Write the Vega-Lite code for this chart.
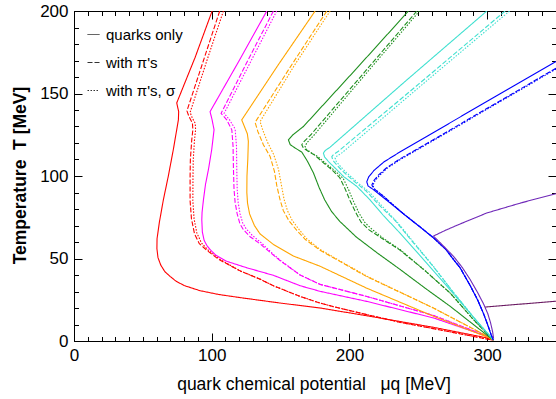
{
"$schema": "https://vega.github.io/schema/vega-lite/v6.json",
"width": 482, "height": 330,
"autosize": {"type": "none"},
"padding": {"left": 74, "top": 11, "right": 0, "bottom": 58},
"background": "white",
"config": {
  "view": {"stroke": "black", "strokeWidth": 1},
  "font": "Liberation Sans",
  "axis": {"grid": false, "domain": false, "tickColor": "black", "labelColor": "black", "titleColor": "black", "labelFont": "Liberation Sans", "titleFont": "Liberation Sans", "tickWidth": 1}
},
"resolve": {"axis": {"x": "independent", "y": "independent"}},
"layer": [
{
  "data": {"values": [
{"c":"A","v":"quarks only","i":0,"mu":100.3,"T":200},{"c":"A","v":"quarks only","i":1,"mu":88,"T":172},{"c":"A","v":"quarks only","i":2,"mu":74.6,"T":144.3},{"c":"A","v":"quarks only","i":3,"mu":76,"T":139},{"c":"A","v":"quarks only","i":4,"mu":75.8,"T":134},{"c":"A","v":"quarks only","i":5,"mu":72.1,"T":115.9},{"c":"A","v":"quarks only","i":6,"mu":68.5,"T":100},{"c":"A","v":"quarks only","i":7,"mu":64.9,"T":85.6},{"c":"A","v":"quarks only","i":8,"mu":62,"T":72},{"c":"A","v":"quarks only","i":9,"mu":60.3,"T":62},{"c":"A","v":"quarks only","i":10,"mu":60.2,"T":56},{"c":"A","v":"quarks only","i":11,"mu":61,"T":50.5},{"c":"A","v":"quarks only","i":12,"mu":63,"T":46},{"c":"A","v":"quarks only","i":13,"mu":66,"T":42},{"c":"A","v":"quarks only","i":14,"mu":69.7,"T":39.2},{"c":"A","v":"quarks only","i":15,"mu":74,"T":36.3},{"c":"A","v":"quarks only","i":16,"mu":80,"T":33.6},{"c":"A","v":"quarks only","i":17,"mu":91.5,"T":30.5},{"c":"A","v":"quarks only","i":18,"mu":105,"T":28.2},{"c":"A","v":"quarks only","i":19,"mu":120.6,"T":26.3},{"c":"A","v":"quarks only","i":20,"mu":149.7,"T":23},{"c":"A","v":"quarks only","i":21,"mu":178.7,"T":20},{"c":"A","v":"quarks only","i":22,"mu":212.6,"T":15.3},{"c":"A","v":"quarks only","i":23,"mu":261,"T":8.3},{"c":"A","v":"quarks only","i":24,"mu":299.8,"T":1.9},{"c":"A","v":"quarks only","i":25,"mu":304.6,"T":0.5},
{"c":"A","v":"with π's","i":0,"mu":105.8,"T":200},{"c":"A","v":"with π's","i":1,"mu":94,"T":170},{"c":"A","v":"with π's","i":2,"mu":82,"T":139.5},{"c":"A","v":"with π's","i":3,"mu":83.5,"T":136},{"c":"A","v":"with π's","i":4,"mu":86,"T":132},{"c":"A","v":"with π's","i":5,"mu":86.3,"T":128},{"c":"A","v":"with π's","i":6,"mu":85.5,"T":121.9},{"c":"A","v":"with π's","i":7,"mu":84.5,"T":110},{"c":"A","v":"with π's","i":8,"mu":84.3,"T":100},{"c":"A","v":"with π's","i":9,"mu":84.3,"T":85},{"c":"A","v":"with π's","i":10,"mu":85.3,"T":74},{"c":"A","v":"with π's","i":11,"mu":87.5,"T":65},{"c":"A","v":"with π's","i":12,"mu":91,"T":59},{"c":"A","v":"with π's","i":13,"mu":96.4,"T":55},{"c":"A","v":"with π's","i":14,"mu":105,"T":49.5},{"c":"A","v":"with π's","i":15,"mu":120.6,"T":42.5},{"c":"A","v":"with π's","i":16,"mu":135,"T":37.5},{"c":"A","v":"with π's","i":17,"mu":144.8,"T":33.5},{"c":"A","v":"with π's","i":18,"mu":164.2,"T":27},{"c":"A","v":"with π's","i":19,"mu":178.7,"T":23},{"c":"A","v":"with π's","i":20,"mu":188.4,"T":20.8},{"c":"A","v":"with π's","i":21,"mu":212.6,"T":16},{"c":"A","v":"with π's","i":22,"mu":236.9,"T":11.3},{"c":"A","v":"with π's","i":23,"mu":261,"T":7.5},{"c":"A","v":"with π's","i":24,"mu":299.8,"T":1.2},{"c":"A","v":"with π's","i":25,"mu":304.6,"T":0.5},
{"c":"A","v":"with π's, σ","i":0,"mu":108.5,"T":200},{"c":"A","v":"with π's, σ","i":1,"mu":96.5,"T":170},{"c":"A","v":"with π's, σ","i":2,"mu":84.3,"T":138.5},{"c":"A","v":"with π's, σ","i":3,"mu":86,"T":135},{"c":"A","v":"with π's, σ","i":4,"mu":88,"T":132},{"c":"A","v":"with π's, σ","i":5,"mu":88.3,"T":128},{"c":"A","v":"with π's, σ","i":6,"mu":87.5,"T":121.9},{"c":"A","v":"with π's, σ","i":7,"mu":86.6,"T":110},{"c":"A","v":"with π's, σ","i":8,"mu":86.4,"T":100},{"c":"A","v":"with π's, σ","i":9,"mu":86.3,"T":85},{"c":"A","v":"with π's, σ","i":10,"mu":87.2,"T":74},{"c":"A","v":"with π's, σ","i":11,"mu":89.2,"T":65.5},{"c":"A","v":"with π's, σ","i":12,"mu":92.5,"T":59.5},{"c":"A","v":"with π's, σ","i":13,"mu":97.5,"T":55},{"c":"A","v":"with π's, σ","i":14,"mu":106,"T":49.5},{"c":"A","v":"with π's, σ","i":15,"mu":120.6,"T":42.5},{"c":"A","v":"with π's, σ","i":16,"mu":135,"T":37.5},{"c":"A","v":"with π's, σ","i":17,"mu":144.8,"T":33.5},{"c":"A","v":"with π's, σ","i":18,"mu":164.2,"T":27},{"c":"A","v":"with π's, σ","i":19,"mu":178.7,"T":23},{"c":"A","v":"with π's, σ","i":20,"mu":188.4,"T":20.8},{"c":"A","v":"with π's, σ","i":21,"mu":212.6,"T":16},{"c":"A","v":"with π's, σ","i":22,"mu":236.9,"T":11.3},{"c":"A","v":"with π's, σ","i":23,"mu":261,"T":7.5},{"c":"A","v":"with π's, σ","i":24,"mu":299.8,"T":1.2},{"c":"A","v":"with π's, σ","i":25,"mu":304.6,"T":0.5},
{"c":"B","v":"quarks only","i":0,"mu":140,"T":200},{"c":"B","v":"quarks only","i":1,"mu":120,"T":170},{"c":"B","v":"quarks only","i":2,"mu":98.8,"T":139},{"c":"B","v":"quarks only","i":3,"mu":100.3,"T":134},{"c":"B","v":"quarks only","i":4,"mu":101.7,"T":128},{"c":"B","v":"quarks only","i":5,"mu":100,"T":116},{"c":"B","v":"quarks only","i":6,"mu":97.6,"T":103.8},{"c":"B","v":"quarks only","i":7,"mu":95.5,"T":95},{"c":"B","v":"quarks only","i":8,"mu":94,"T":85.6},{"c":"B","v":"quarks only","i":9,"mu":93,"T":78},{"c":"B","v":"quarks only","i":10,"mu":92.8,"T":73.5},{"c":"B","v":"quarks only","i":11,"mu":93.2,"T":66},{"c":"B","v":"quarks only","i":12,"mu":94.5,"T":61},{"c":"B","v":"quarks only","i":13,"mu":96.4,"T":58},{"c":"B","v":"quarks only","i":14,"mu":98.8,"T":55.4},{"c":"B","v":"quarks only","i":15,"mu":103,"T":52},{"c":"B","v":"quarks only","i":16,"mu":110.9,"T":48.3},{"c":"B","v":"quarks only","i":17,"mu":125,"T":44.5},{"c":"B","v":"quarks only","i":18,"mu":144.8,"T":39.8},{"c":"B","v":"quarks only","i":19,"mu":164.2,"T":33.5},{"c":"B","v":"quarks only","i":20,"mu":178.7,"T":30.1},{"c":"B","v":"quarks only","i":21,"mu":212.6,"T":24},{"c":"B","v":"quarks only","i":22,"mu":261,"T":14},{"c":"B","v":"quarks only","i":23,"mu":299.8,"T":2.9},{"c":"B","v":"quarks only","i":24,"mu":304.6,"T":0.5},
{"c":"B","v":"with π's","i":0,"mu":144.8,"T":200},{"c":"B","v":"with π's","i":1,"mu":125,"T":168},{"c":"B","v":"with π's","i":2,"mu":106.8,"T":138},{"c":"B","v":"with π's","i":3,"mu":110.9,"T":134},{"c":"B","v":"with π's","i":4,"mu":114.6,"T":128},{"c":"B","v":"with π's","i":5,"mu":115.5,"T":118},{"c":"B","v":"with π's","i":6,"mu":115.8,"T":103.8},{"c":"B","v":"with π's","i":7,"mu":116.2,"T":92},{"c":"B","v":"with π's","i":8,"mu":117,"T":84},{"c":"B","v":"with π's","i":9,"mu":118.5,"T":77},{"c":"B","v":"with π's","i":10,"mu":120.5,"T":71},{"c":"B","v":"with π's","i":11,"mu":123,"T":67.5},{"c":"B","v":"with π's","i":12,"mu":127.9,"T":63.2},{"c":"B","v":"with π's","i":13,"mu":135,"T":59},{"c":"B","v":"with π's","i":14,"mu":144.8,"T":52},{"c":"B","v":"with π's","i":15,"mu":150,"T":48.5},{"c":"B","v":"with π's","i":16,"mu":164.2,"T":40},{"c":"B","v":"with π's","i":17,"mu":178.7,"T":34.3},{"c":"B","v":"with π's","i":18,"mu":212.6,"T":27},{"c":"B","v":"with π's","i":19,"mu":261,"T":15.5},{"c":"B","v":"with π's","i":20,"mu":299.8,"T":3},{"c":"B","v":"with π's","i":21,"mu":304.6,"T":0.5},
{"c":"B","v":"with π's, σ","i":0,"mu":147.2,"T":200},{"c":"B","v":"with π's, σ","i":1,"mu":127.5,"T":168},{"c":"B","v":"with π's, σ","i":2,"mu":109,"T":138},{"c":"B","v":"with π's, σ","i":3,"mu":113,"T":134},{"c":"B","v":"with π's, σ","i":4,"mu":117,"T":128.5},{"c":"B","v":"with π's, σ","i":5,"mu":118,"T":118},{"c":"B","v":"with π's, σ","i":6,"mu":118.2,"T":103.8},{"c":"B","v":"with π's, σ","i":7,"mu":118.5,"T":92},{"c":"B","v":"with π's, σ","i":8,"mu":119.2,"T":84},{"c":"B","v":"with π's, σ","i":9,"mu":120.6,"T":77},{"c":"B","v":"with π's, σ","i":10,"mu":122.5,"T":71.5},{"c":"B","v":"with π's, σ","i":11,"mu":125,"T":68},{"c":"B","v":"with π's, σ","i":12,"mu":129.5,"T":64},{"c":"B","v":"with π's, σ","i":13,"mu":136,"T":59.5},{"c":"B","v":"with π's, σ","i":14,"mu":144.8,"T":52.5},{"c":"B","v":"with π's, σ","i":15,"mu":150,"T":48.8},{"c":"B","v":"with π's, σ","i":16,"mu":164.2,"T":40},{"c":"B","v":"with π's, σ","i":17,"mu":178.7,"T":34.3},{"c":"B","v":"with π's, σ","i":18,"mu":212.6,"T":27},{"c":"B","v":"with π's, σ","i":19,"mu":261,"T":15.5},{"c":"B","v":"with π's, σ","i":20,"mu":299.8,"T":3},{"c":"B","v":"with π's, σ","i":21,"mu":304.6,"T":0.5},
{"c":"C","v":"quarks only","i":0,"mu":175.1,"T":200},{"c":"C","v":"quarks only","i":1,"mu":148,"T":167},{"c":"C","v":"quarks only","i":2,"mu":121.8,"T":134},{"c":"C","v":"quarks only","i":3,"mu":123.5,"T":130.5},{"c":"C","v":"quarks only","i":4,"mu":125.9,"T":125.5},{"c":"C","v":"quarks only","i":5,"mu":126.6,"T":121},{"c":"C","v":"quarks only","i":6,"mu":126.2,"T":110},{"c":"C","v":"quarks only","i":7,"mu":125.6,"T":100},{"c":"C","v":"quarks only","i":8,"mu":125.5,"T":90},{"c":"C","v":"quarks only","i":9,"mu":126,"T":83.6},{"c":"C","v":"quarks only","i":10,"mu":127.5,"T":77},{"c":"C","v":"quarks only","i":11,"mu":131,"T":70},{"c":"C","v":"quarks only","i":12,"mu":135,"T":65},{"c":"C","v":"quarks only","i":13,"mu":138.8,"T":62.5},{"c":"C","v":"quarks only","i":14,"mu":144.8,"T":58.5},{"c":"C","v":"quarks only","i":15,"mu":159.3,"T":51.5},{"c":"C","v":"quarks only","i":16,"mu":178.7,"T":45.3},{"c":"C","v":"quarks only","i":17,"mu":212.6,"T":32},{"c":"C","v":"quarks only","i":18,"mu":261,"T":15},{"c":"C","v":"quarks only","i":19,"mu":299.8,"T":2.5},{"c":"C","v":"quarks only","i":20,"mu":304.6,"T":0.5},
{"c":"C","v":"with π's","i":0,"mu":183.6,"T":200},{"c":"C","v":"with π's","i":1,"mu":157,"T":166},{"c":"C","v":"with π's","i":2,"mu":131.5,"T":132.5},{"c":"C","v":"with π's","i":3,"mu":133.5,"T":127},{"c":"C","v":"with π's","i":4,"mu":137.5,"T":119},{"c":"C","v":"with π's","i":5,"mu":142.4,"T":111.8},{"c":"C","v":"with π's","i":6,"mu":145.5,"T":103},{"c":"C","v":"with π's","i":7,"mu":147.3,"T":94},{"c":"C","v":"with π's","i":8,"mu":149.5,"T":86},{"c":"C","v":"with π's","i":9,"mu":152,"T":79},{"c":"C","v":"with π's","i":10,"mu":156,"T":73},{"c":"C","v":"with π's","i":11,"mu":161.8,"T":67},{"c":"C","v":"with π's","i":12,"mu":168,"T":61.5},{"c":"C","v":"with π's","i":13,"mu":178.7,"T":55},{"c":"C","v":"with π's","i":14,"mu":212.6,"T":39},{"c":"C","v":"with π's","i":15,"mu":261,"T":20},{"c":"C","v":"with π's","i":16,"mu":299.8,"T":3},{"c":"C","v":"with π's","i":17,"mu":304.6,"T":0.5},
{"c":"C","v":"with π's, σ","i":0,"mu":186,"T":200},{"c":"C","v":"with π's, σ","i":1,"mu":160,"T":167},{"c":"C","v":"with π's, σ","i":2,"mu":135.1,"T":133},{"c":"C","v":"with π's, σ","i":3,"mu":137,"T":128},{"c":"C","v":"with π's, σ","i":4,"mu":140.5,"T":120.5},{"c":"C","v":"with π's, σ","i":5,"mu":145,"T":113},{"c":"C","v":"with π's, σ","i":6,"mu":148.5,"T":104},{"c":"C","v":"with π's, σ","i":7,"mu":150.5,"T":95},{"c":"C","v":"with π's, σ","i":8,"mu":152.5,"T":86},{"c":"C","v":"with π's, σ","i":9,"mu":155,"T":79},{"c":"C","v":"with π's, σ","i":10,"mu":158.5,"T":73},{"c":"C","v":"with π's, σ","i":11,"mu":163.5,"T":67.5},{"c":"C","v":"with π's, σ","i":12,"mu":169,"T":62},{"c":"C","v":"with π's, σ","i":13,"mu":178.7,"T":55.5},{"c":"C","v":"with π's, σ","i":14,"mu":212.6,"T":39.3},{"c":"C","v":"with π's, σ","i":15,"mu":261,"T":20},{"c":"C","v":"with π's, σ","i":16,"mu":299.8,"T":3},{"c":"C","v":"with π's, σ","i":17,"mu":304.6,"T":0.5},
{"c":"D","v":"quarks only","i":0,"mu":242.9,"T":200},{"c":"D","v":"quarks only","i":1,"mu":205,"T":165},{"c":"D","v":"quarks only","i":2,"mu":166.6,"T":130},{"c":"D","v":"quarks only","i":3,"mu":159,"T":125},{"c":"D","v":"quarks only","i":4,"mu":155.7,"T":121.9},{"c":"D","v":"quarks only","i":5,"mu":157,"T":119},{"c":"D","v":"quarks only","i":6,"mu":160.5,"T":117},{"c":"D","v":"quarks only","i":7,"mu":165.4,"T":114.5},{"c":"D","v":"quarks only","i":8,"mu":169.5,"T":109},{"c":"D","v":"quarks only","i":9,"mu":173.9,"T":101.8},{"c":"D","v":"quarks only","i":10,"mu":178,"T":93},{"c":"D","v":"quarks only","i":11,"mu":182,"T":85.6},{"c":"D","v":"quarks only","i":12,"mu":187,"T":78.5},{"c":"D","v":"quarks only","i":13,"mu":193,"T":72.5},{"c":"D","v":"quarks only","i":14,"mu":205,"T":63},{"c":"D","v":"quarks only","i":15,"mu":220,"T":53.5},{"c":"D","v":"quarks only","i":16,"mu":236.9,"T":43.3},{"c":"D","v":"quarks only","i":17,"mu":255,"T":32},{"c":"D","v":"quarks only","i":18,"mu":273.2,"T":21},{"c":"D","v":"quarks only","i":19,"mu":290,"T":10},{"c":"D","v":"quarks only","i":20,"mu":304.6,"T":0.5},
{"c":"D","v":"with π's","i":0,"mu":249,"T":200},{"c":"D","v":"with π's","i":1,"mu":210,"T":162},{"c":"D","v":"with π's","i":2,"mu":172,"T":125},{"c":"D","v":"with π's","i":3,"mu":166.5,"T":120.5},{"c":"D","v":"with π's","i":4,"mu":165.4,"T":118.9},{"c":"D","v":"with π's","i":5,"mu":166.5,"T":117},{"c":"D","v":"with π's","i":6,"mu":170,"T":115},{"c":"D","v":"with π's","i":7,"mu":175,"T":112.5},{"c":"D","v":"with π's","i":8,"mu":181.1,"T":108},{"c":"D","v":"with π's","i":9,"mu":187,"T":104},{"c":"D","v":"with π's","i":10,"mu":193,"T":99},{"c":"D","v":"with π's","i":11,"mu":197,"T":92},{"c":"D","v":"with π's","i":12,"mu":200.5,"T":85},{"c":"D","v":"with π's","i":13,"mu":204.5,"T":78},{"c":"D","v":"with π's","i":14,"mu":208.5,"T":72},{"c":"D","v":"with π's","i":15,"mu":214,"T":67.5},{"c":"D","v":"with π's","i":16,"mu":224,"T":62},{"c":"D","v":"with π's","i":17,"mu":236.9,"T":55},{"c":"D","v":"with π's","i":18,"mu":255,"T":42.5},{"c":"D","v":"with π's","i":19,"mu":273.2,"T":29},{"c":"D","v":"with π's","i":20,"mu":290,"T":13},{"c":"D","v":"with π's","i":21,"mu":304.6,"T":0.5},
{"c":"D","v":"with π's, σ","i":0,"mu":250.9,"T":200},{"c":"D","v":"with π's, σ","i":1,"mu":212,"T":162},{"c":"D","v":"with π's, σ","i":2,"mu":174,"T":124.5},{"c":"D","v":"with π's, σ","i":3,"mu":169,"T":120},{"c":"D","v":"with π's, σ","i":4,"mu":167.8,"T":117.9},{"c":"D","v":"with π's, σ","i":5,"mu":169,"T":116},{"c":"D","v":"with π's, σ","i":6,"mu":172.5,"T":114},{"c":"D","v":"with π's, σ","i":7,"mu":177.5,"T":111.5},{"c":"D","v":"with π's, σ","i":8,"mu":183,"T":107.5},{"c":"D","v":"with π's, σ","i":9,"mu":189,"T":103.5},{"c":"D","v":"with π's, σ","i":10,"mu":195.5,"T":98.5},{"c":"D","v":"with π's, σ","i":11,"mu":199.5,"T":91.5},{"c":"D","v":"with π's, σ","i":12,"mu":203,"T":84.5},{"c":"D","v":"with π's, σ","i":13,"mu":207,"T":77.5},{"c":"D","v":"with π's, σ","i":14,"mu":211,"T":72},{"c":"D","v":"with π's, σ","i":15,"mu":216,"T":68},{"c":"D","v":"with π's, σ","i":16,"mu":225,"T":62},{"c":"D","v":"with π's, σ","i":17,"mu":236.9,"T":55.3},{"c":"D","v":"with π's, σ","i":18,"mu":255,"T":42.7},{"c":"D","v":"with π's, σ","i":19,"mu":273.2,"T":29},{"c":"D","v":"with π's, σ","i":20,"mu":290,"T":13},{"c":"D","v":"with π's, σ","i":21,"mu":304.6,"T":0.5},
{"c":"E","v":"quarks only","i":0,"mu":299.8,"T":200},{"c":"E","v":"quarks only","i":1,"mu":240,"T":157},{"c":"E","v":"quarks only","i":2,"mu":186,"T":117.5},{"c":"E","v":"quarks only","i":3,"mu":182.5,"T":115.5},{"c":"E","v":"quarks only","i":4,"mu":181.1,"T":113.9},{"c":"E","v":"quarks only","i":5,"mu":182,"T":111.5},{"c":"E","v":"quarks only","i":6,"mu":185,"T":108.5},{"c":"E","v":"quarks only","i":7,"mu":188.4,"T":105.8},{"c":"E","v":"quarks only","i":8,"mu":196,"T":99.5},{"c":"E","v":"quarks only","i":9,"mu":205.4,"T":93.7},{"c":"E","v":"quarks only","i":10,"mu":215,"T":85.5},{"c":"E","v":"quarks only","i":11,"mu":224.7,"T":76},{"c":"E","v":"quarks only","i":12,"mu":234.4,"T":67.5},{"c":"E","v":"quarks only","i":13,"mu":250,"T":53},{"c":"E","v":"quarks only","i":14,"mu":270,"T":34},{"c":"E","v":"quarks only","i":15,"mu":290,"T":14.5},{"c":"E","v":"quarks only","i":16,"mu":304.6,"T":0.5},
{"c":"E","v":"with π's","i":0,"mu":313.1,"T":200},{"c":"E","v":"with π's","i":1,"mu":250,"T":155.5},{"c":"E","v":"with π's","i":2,"mu":192,"T":115},{"c":"E","v":"with π's","i":3,"mu":188.5,"T":113},{"c":"E","v":"with π's","i":4,"mu":187.2,"T":111.8},{"c":"E","v":"with π's","i":5,"mu":188,"T":109.5},{"c":"E","v":"with π's","i":6,"mu":191,"T":106.5},{"c":"E","v":"with π's","i":7,"mu":195,"T":103},{"c":"E","v":"with π's","i":8,"mu":203,"T":97},{"c":"E","v":"with π's","i":9,"mu":212,"T":91},{"c":"E","v":"with π's","i":10,"mu":222,"T":82},{"c":"E","v":"with π's","i":11,"mu":233.2,"T":73},{"c":"E","v":"with π's","i":12,"mu":245,"T":61},{"c":"E","v":"with π's","i":13,"mu":260,"T":46},{"c":"E","v":"with π's","i":14,"mu":275,"T":30},{"c":"E","v":"with π's","i":15,"mu":290,"T":14.5},{"c":"E","v":"with π's","i":16,"mu":304.6,"T":0.5},
{"c":"E","v":"with π's, σ","i":0,"mu":316.3,"T":200},{"c":"E","v":"with π's, σ","i":1,"mu":253,"T":155.5},{"c":"E","v":"with π's, σ","i":2,"mu":194.5,"T":114},{"c":"E","v":"with π's, σ","i":3,"mu":190.8,"T":112},{"c":"E","v":"with π's, σ","i":4,"mu":189.6,"T":110.9},{"c":"E","v":"with π's, σ","i":5,"mu":190.5,"T":108.7},{"c":"E","v":"with π's, σ","i":6,"mu":193.5,"T":105.8},{"c":"E","v":"with π's, σ","i":7,"mu":197.5,"T":102.3},{"c":"E","v":"with π's, σ","i":8,"mu":205.5,"T":96.3},{"c":"E","v":"with π's, σ","i":9,"mu":214.5,"T":90.2},{"c":"E","v":"with π's, σ","i":10,"mu":224,"T":81.5},{"c":"E","v":"with π's, σ","i":11,"mu":234.5,"T":72.3},{"c":"E","v":"with π's, σ","i":12,"mu":246,"T":60.5},{"c":"E","v":"with π's, σ","i":13,"mu":260.5,"T":45.8},{"c":"E","v":"with π's, σ","i":14,"mu":275,"T":30},{"c":"E","v":"with π's, σ","i":15,"mu":290,"T":14.5},{"c":"E","v":"with π's, σ","i":16,"mu":304.6,"T":0.5},
{"c":"F","v":"quarks only","i":0,"mu":350,"T":169.4},{"c":"F","v":"quarks only","i":1,"mu":300,"T":145.3},{"c":"F","v":"quarks only","i":2,"mu":256.2,"T":124},{"c":"F","v":"quarks only","i":3,"mu":236.9,"T":114.7},{"c":"F","v":"quarks only","i":4,"mu":225,"T":108.5},{"c":"F","v":"quarks only","i":5,"mu":218,"T":103.5},{"c":"F","v":"quarks only","i":6,"mu":214,"T":99.5},{"c":"F","v":"quarks only","i":7,"mu":212.6,"T":96.5},{"c":"F","v":"quarks only","i":8,"mu":213.5,"T":94},{"c":"F","v":"quarks only","i":9,"mu":217.5,"T":91.7},{"c":"F","v":"quarks only","i":10,"mu":223,"T":88},{"c":"F","v":"quarks only","i":11,"mu":229.6,"T":83.6},{"c":"F","v":"quarks only","i":12,"mu":240,"T":76.5},{"c":"F","v":"quarks only","i":13,"mu":251.4,"T":69},{"c":"F","v":"quarks only","i":14,"mu":261,"T":62.5},{"c":"F","v":"quarks only","i":15,"mu":270,"T":55.5},{"c":"F","v":"quarks only","i":16,"mu":275.6,"T":49.3},{"c":"F","v":"quarks only","i":17,"mu":280.4,"T":44.3},{"c":"F","v":"quarks only","i":18,"mu":287.7,"T":33.5},{"c":"F","v":"quarks only","i":19,"mu":293,"T":25},{"c":"F","v":"quarks only","i":20,"mu":297.4,"T":16.5},{"c":"F","v":"quarks only","i":21,"mu":300.5,"T":9.5},{"c":"F","v":"quarks only","i":22,"mu":302.8,"T":4},{"c":"F","v":"quarks only","i":23,"mu":304.4,"T":0.8},
{"c":"F","v":"with π's","i":0,"mu":350,"T":165.3},{"c":"F","v":"with π's","i":1,"mu":300,"T":141},{"c":"F","v":"with π's","i":2,"mu":256.2,"T":119.7},{"c":"F","v":"with π's","i":3,"mu":236.9,"T":110.5},{"c":"F","v":"with π's","i":4,"mu":227,"T":105},{"c":"F","v":"with π's","i":5,"mu":221,"T":100.5},{"c":"F","v":"with π's","i":6,"mu":217.5,"T":97},{"c":"F","v":"with π's","i":7,"mu":216.3,"T":94.5},{"c":"F","v":"with π's","i":8,"mu":217.5,"T":92.5},{"c":"F","v":"with π's","i":9,"mu":220.5,"T":90.5},{"c":"F","v":"with π's","i":10,"mu":225,"T":87.5},{"c":"F","v":"with π's","i":11,"mu":229.6,"T":84},{"c":"F","v":"with π's","i":12,"mu":240,"T":76.6},{"c":"F","v":"with π's","i":13,"mu":251.4,"T":69.1},{"c":"F","v":"with π's","i":14,"mu":261,"T":62.6},{"c":"F","v":"with π's","i":15,"mu":270,"T":55.6},{"c":"F","v":"with π's","i":16,"mu":275.6,"T":49.4},{"c":"F","v":"with π's","i":17,"mu":280.4,"T":44.4},{"c":"F","v":"with π's","i":18,"mu":287.7,"T":33.6},{"c":"F","v":"with π's","i":19,"mu":293,"T":25.1},{"c":"F","v":"with π's","i":20,"mu":297.4,"T":16.6},{"c":"F","v":"with π's","i":21,"mu":300.5,"T":9.6},{"c":"F","v":"with π's","i":22,"mu":302.8,"T":4},{"c":"F","v":"with π's","i":23,"mu":304.4,"T":0.8},
{"c":"F","v":"with π's, σ","i":0,"mu":350,"T":164.8},{"c":"F","v":"with π's, σ","i":1,"mu":300,"T":140.5},{"c":"F","v":"with π's, σ","i":2,"mu":256.2,"T":119.2},{"c":"F","v":"with π's, σ","i":3,"mu":236.9,"T":110},{"c":"F","v":"with π's, σ","i":4,"mu":227.5,"T":104.8},{"c":"F","v":"with π's, σ","i":5,"mu":221.8,"T":100.3},{"c":"F","v":"with π's, σ","i":6,"mu":218.3,"T":96.8},{"c":"F","v":"with π's, σ","i":7,"mu":217,"T":94.3},{"c":"F","v":"with π's, σ","i":8,"mu":218,"T":92.3},{"c":"F","v":"with π's, σ","i":9,"mu":221,"T":90.3},{"c":"F","v":"with π's, σ","i":10,"mu":225.5,"T":87.3},{"c":"F","v":"with π's, σ","i":11,"mu":229.8,"T":84},{"c":"F","v":"with π's, σ","i":12,"mu":240,"T":76.6},{"c":"F","v":"with π's, σ","i":13,"mu":251.4,"T":69.1},{"c":"F","v":"with π's, σ","i":14,"mu":261,"T":62.6},{"c":"F","v":"with π's, σ","i":15,"mu":270,"T":55.6},{"c":"F","v":"with π's, σ","i":16,"mu":275.6,"T":49.4},{"c":"F","v":"with π's, σ","i":17,"mu":280.4,"T":44.4},{"c":"F","v":"with π's, σ","i":18,"mu":287.7,"T":33.6},{"c":"F","v":"with π's, σ","i":19,"mu":293,"T":25.1},{"c":"F","v":"with π's, σ","i":20,"mu":297.4,"T":16.6},{"c":"F","v":"with π's, σ","i":21,"mu":300.5,"T":9.6},{"c":"F","v":"with π's, σ","i":22,"mu":302.8,"T":4},{"c":"F","v":"with π's, σ","i":23,"mu":304.4,"T":0.8},
{"c":"G","v":"quarks only","i":0,"mu":304.7,"T":1.5},{"c":"G","v":"quarks only","i":1,"mu":304,"T":5.5},{"c":"G","v":"quarks only","i":2,"mu":302.5,"T":11},{"c":"G","v":"quarks only","i":3,"mu":300.5,"T":16.5},{"c":"G","v":"quarks only","i":4,"mu":297.4,"T":22.5},{"c":"G","v":"quarks only","i":5,"mu":293,"T":29.5},{"c":"G","v":"quarks only","i":6,"mu":287.7,"T":37.2},{"c":"G","v":"quarks only","i":7,"mu":282,"T":44.5},{"c":"G","v":"quarks only","i":8,"mu":275.6,"T":51.3},{"c":"G","v":"quarks only","i":9,"mu":268,"T":57.8},{"c":"G","v":"quarks only","i":10,"mu":261,"T":63.6},{"c":"G","v":"quarks only","i":11,"mu":270,"T":67.2},{"c":"G","v":"quarks only","i":12,"mu":280,"T":70.8},{"c":"G","v":"quarks only","i":13,"mu":299.8,"T":77.6},{"c":"G","v":"quarks only","i":14,"mu":325,"T":83.8},{"c":"G","v":"quarks only","i":15,"mu":350,"T":89.3},
{"c":"H","v":"quarks only","i":0,"mu":298.6,"T":20.6},{"c":"H","v":"quarks only","i":1,"mu":350,"T":24.1}
  ]},
  "mark": {"type": "line", "clip": true},
  "encoding": {
    "x": {"field": "mu", "type": "quantitative", "scale": {"domain": [0, 350], "nice": false, "zero": false},
      "axis": {"orient": "bottom", "values": [0, 100, 200, 300], "tickSize": -8, "labelFontSize": 17, "labelPadding": 14, "labelFlush": false,
        "title": "quark chemical potential\u00a0\u00a0\u00a0μq [MeV]", "titleFontSize": 17.5, "titleFontWeight": "normal", "titleX": 239.5, "titleY": 48.5, "titleBaseline": "alphabetic", "titleAlign": "center", "titleAnchor": null}},
    "y": {"field": "T", "type": "quantitative", "scale": {"domain": [0, 200], "nice": false, "zero": false},
      "axis": {"orient": "left", "values": [0, 50, 100, 150, 200], "tickSize": -8, "labelFontSize": 17, "labelPadding": 14, "labelFlush": false,
        "title": "Temperature\u00a0\u00a0T [MeV]", "titleFontSize": 17.5, "titleFontWeight": "bold", "titleX": -49, "titleY": 164, "titleAngle": -90, "titleBaseline": "alphabetic", "titleAlign": "center"}},
    "color": {"field": "c", "type": "nominal", "scale": {"domain": ["A","B","C","D","E","F","G","H"], "range": ["#ff0000","#ff00ff","#ffa500","#1f8f1f","#40e0d0","#0000ff","#6f28b8","#6a1a62"]}, "legend": null},
    "strokeWidth": {"field": "c", "type": "nominal", "scale": {"domain": ["A","B","C","D","E","F","G","H"], "range": [1.1,1.1,1.1,1.1,1.1,1.1,2,2]}, "legend": null},
    "strokeDash": {"field": "v", "type": "nominal", "scale": {"domain": ["quarks only","with π's","with π's, σ"], "range": [[1,0],[5,2],[1.5,1.5]]},
      "legend": {"orient": "none", "legendX": 12, "legendY": 16, "title": null, "symbolType": "stroke", "symbolSize": 144, "symbolStrokeWidth": 1, "symbolStrokeColor": "#333", "labelFontSize": 15, "labelFont": "Liberation Sans", "labelColor": "black", "labelOffset": 5, "rowPadding": 12}},
    "order": {"field": "i", "type": "quantitative"}
  }
},
{
  "data": {"values": [{"mu": 0, "T": 0}]},
  "mark": {"type": "point", "opacity": 0},
  "encoding": {
    "x": {"field": "mu", "type": "quantitative", "axis": {"orient": "bottom", "values": [0,10,20,30,40,50,60,70,80,90,100,110,120,130,140,150,160,170,180,190,200,210,220,230,240,250,260,270,280,290,300,310,320,330,340,350], "tickSize": -4.5, "labels": false, "title": null}},
    "y": {"field": "T", "type": "quantitative", "axis": {"orient": "left", "values": [0,10,20,30,40,50,60,70,80,90,100,110,120,130,140,150,160,170,180,190,200], "tickSize": -4.5, "labels": false, "title": null}}
  }
},
{
  "data": {"values": [{"mu": 0, "T": 0}]},
  "mark": {"type": "point", "opacity": 0},
  "encoding": {
    "x": {"field": "mu", "type": "quantitative", "axis": {"orient": "top", "values": [0, 100, 200, 300], "tickSize": -8, "labels": false, "title": null}},
    "y": {"field": "T", "type": "quantitative", "axis": {"orient": "right", "values": [0, 50, 100, 150, 200], "tickSize": -8, "labels": false, "title": null}}
  }
},
{
  "data": {"values": [{"mu": 0, "T": 0}]},
  "mark": {"type": "point", "opacity": 0},
  "encoding": {
    "x": {"field": "mu", "type": "quantitative", "axis": {"orient": "top", "values": [0,10,20,30,40,50,60,70,80,90,100,110,120,130,140,150,160,170,180,190,200,210,220,230,240,250,260,270,280,290,300,310,320,330,340,350], "tickSize": -4.5, "labels": false, "title": null}},
    "y": {"field": "T", "type": "quantitative", "axis": {"orient": "right", "values": [0,10,20,30,40,50,60,70,80,90,100,110,120,130,140,150,160,170,180,190,200], "tickSize": -4.5, "labels": false, "title": null}}
  }
}
]
}
